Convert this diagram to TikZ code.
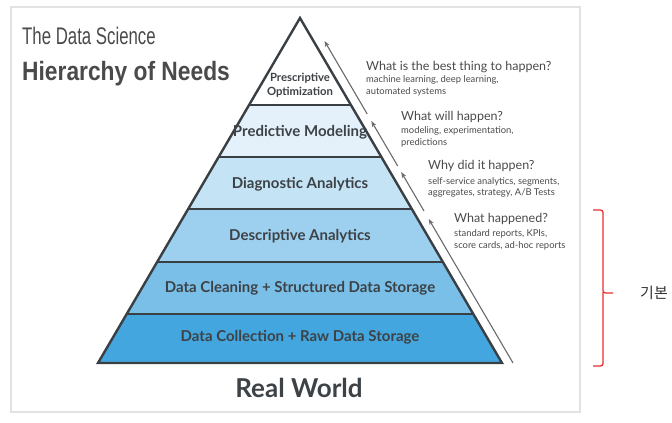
\documentclass[tikz,border=0pt]{standalone}
\usepackage{fontspec}
\setmainfont{Lato}
\newfontfamily\titlefont{Liberation Sans}
\newfontfamily\krfont{Noto Sans CJK KR}
\usetikzlibrary{calc,arrows.meta}
\definecolor{edge}{HTML}{3A3F44}
\definecolor{txt}{HTML}{3D4247}
\definecolor{side}{HTML}{4A4A4A}
\definecolor{arr}{HTML}{6A6A6A}
\definecolor{frame}{HTML}{E2E2E2}
\definecolor{cpred}{HTML}{E4F1FA}
\definecolor{cdiag}{HTML}{C4E3F5}
\definecolor{cdesc}{HTML}{9DD0EE}
\definecolor{cclean}{HTML}{79BFE8}
\definecolor{ccoll}{HTML}{44A6DE}
\definecolor{bred}{HTML}{E8312B}
\tikzset{
  layerlabel/.style={text=txt, font=\bfseries\fontsize{15}{17}\selectfont, inner sep=0pt},
  headq/.style={anchor=base west, text=side, font=\fontsize{12.5}{14}\selectfont, inner sep=0pt},
  subq/.style={anchor=base west, text=side, font=\fontsize{9.4}{12}\selectfont, inner sep=0pt},
  uparrow/.style={draw=arr, line width=1.1pt, -{Stealth[length=6pt,width=4.5pt]}},
}
\begin{document}
\begin{tikzpicture}[x=1pt,y=-1pt]
\useasboundingbox (0,0) rectangle (672,423);
% frame
\draw[frame, line width=1.5pt] (11,7) rectangle (580,412);
% title
\node[anchor=base west, inner sep=0pt, text=side] (t1) at (22,44)
  {\scalebox{0.70}[1]{\titlefont\fontsize{24}{26}\selectfont The Data Science}};
\node[anchor=base west, inner sep=0pt, text=side] (t2) at (22,80.5)
  {\scalebox{0.86}[1]{\titlefont\bfseries\fontsize{26.5}{28}\selectfont Hierarchy of Needs}};
% pyramid corners
\coordinate (A) at (300,18);
\coordinate (BL) at (98,363);
\coordinate (BR) at (502,363);
\foreach \n/\t in {1/0.2522,2/0.4029,3/0.5536,4/0.7072,5/0.8580}{
  \coordinate (L\n) at ($(A)!\t!(BL)$);
  \coordinate (R\n) at ($(A)!\t!(BR)$);
}
% layers
\fill[white] (A) -- (L1) -- (R1) -- cycle;
\fill[cpred] (L1) -- (L2) -- (R2) -- (R1) -- cycle;
\fill[cdiag] (L2) -- (L3) -- (R3) -- (R2) -- cycle;
\fill[cdesc] (L3) -- (L4) -- (R4) -- (R3) -- cycle;
\fill[cclean] (L4) -- (L5) -- (R5) -- (R4) -- cycle;
\fill[ccoll] (L5) -- (BL) -- (BR) -- (R5) -- cycle;
\foreach \n in {1,...,5}{\draw[edge, line width=2pt] (L\n) -- (R\n);}
\draw[edge, line width=2.4pt, line join=miter] (A) -- (BL) -- (BR) -- cycle;
% labels
\node[layerlabel, align=center, font=\bfseries\fontsize{11.3}{14.5}\selectfont] (l6) at (300,85) {Prescriptive\\Optimization};
\node[layerlabel] (l5) at (300,132) {Predictive Modeling};
\node[layerlabel] (l4) at (300,184) {Diagnostic Analytics};
\node[layerlabel] (l3) at (300,236) {Descriptive Analytics};
\node[layerlabel] (l2) at (300,288) {Data Cleaning + Structured Data Storage};
\node[layerlabel] (l1) at (300,337) {Data Collection + Raw Data Storage};
\node[text=txt, font=\bfseries\fontsize{26}{28}\selectfont, inner sep=0pt] (rw) at (299,388) {Real World};
% arrows
\coordinate (a1s) at (513,363);   \coordinate (a1e) at (428.7,219);
\coordinate (a2s) at (424.0,211); \coordinate (a2e) at (401.2,172);
\coordinate (a3s) at (397.7,166); \coordinate (a3e) at (371.3,121);
\coordinate (a4s) at (367.2,114); \coordinate (a4e) at (324.5,41);
\draw[uparrow] (a1s) -- (a1e);
\draw[uparrow] (a2s) -- (a2e);
\draw[uparrow] (a3s) -- (a3e);
\draw[uparrow] (a4s) -- (a4e);
% side texts
\node[headq] (q4) at (366,70) {What is the best thing to happen?};
\node[subq] (s4a) at (366,82.7) {machine learning, deep learning,};
\node[subq] (s4b) at (366,94.3) {automated systems};
\node[headq] (q3) at (401,120) {What will happen?};
\node[subq] (s3a) at (401,133.3) {modeling, experimentation,};
\node[subq] (s3b) at (401,145) {predictions};
\node[headq] (q2) at (428,169.3) {Why did it happen?};
\node[subq] (s2a) at (428,184) {self-service analytics, segments,};
\node[subq] (s2b) at (428,195.7) {aggregates, strategy, A/B Tests};
\node[headq] (q1) at (454,222.7) {What happened?};
\node[subq] (s1a) at (454,236) {standard reports, KPIs,};
\node[subq] (s1b) at (454,248.7) {score cards, ad-hoc reports};
% bracket
\draw[bred, line width=1.3pt, rounded corners=2.5pt] (593,210) -- (603,210) -- (603,293) -- (613,293);
\draw[bred, line width=1.3pt, rounded corners=2.5pt] (603,292) -- (603,366) -- (593,366);
\node[anchor=west, inner sep=0pt, text=black!80, font=\krfont\fontsize{15}{17}\selectfont] (kr) at (640,293) {기본};
\end{tikzpicture}
\end{document}
